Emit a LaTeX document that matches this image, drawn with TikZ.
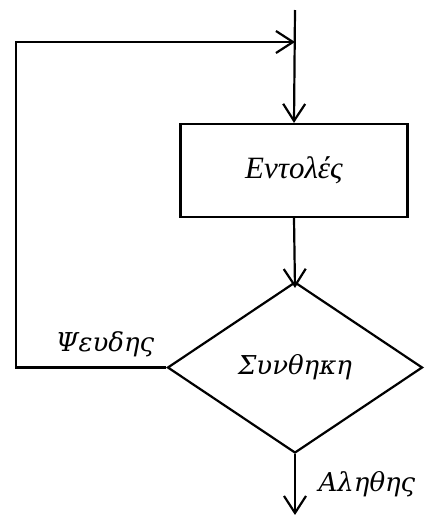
\documentclass[tikz,border=0pt]{standalone}
\usepackage{fontspec}
\setmainfont{Liberation Serif}
\newfontfamily\mathlike{DejaVu Serif}
\usetikzlibrary{shapes.geometric,arrows.meta}
\tikzset{
  conn/.style={line width=2.2pt},
  arr/.style={conn,-{Straight Barb[length=17pt,width=22pt,line width=2.2pt]}},
  stepbox/.style={draw,line width=2.2pt,minimum width=227pt,minimum height=93pt,inner sep=0pt,font=\fontsize{31}{36}\selectfont\itshape},
  decide/.style={draw,diamond,line width=2.2pt,minimum width=255pt,minimum height=171pt,inner sep=0pt,font=\fontsize{26}{32}\mathlike\itshape},
  lbl/.style={inner sep=0pt,font=\fontsize{26}{32}\mathlike\itshape}
}
\begin{document}
\begin{tikzpicture}[x=1pt,y=-1pt]
\useasboundingbox (0,0) rectangle (425,515);
\coordinate (top) at (295,10);
\coordinate (join) at (295,42);
\coordinate (corner) at (16,42);
\coordinate (end) at (295,515);
\node[stepbox] (box) at (294,170.5) {Εντολές};
\node[decide] (dia) at (295,367.5) {Συνθηκη};
\node[lbl] (no) at (105,344) {Ψευδης};
\node[lbl] (yes) at (367,484) {Αληθης};
\draw[arr] (top) -- (box.north);
\draw[arr] (box.south) -- ([yshift=-7pt]dia.north);
\draw[arr] (dia.west) -| (corner) -- (join);
\draw[arr] (dia.south) -- (end);
\end{tikzpicture}
\end{document}
